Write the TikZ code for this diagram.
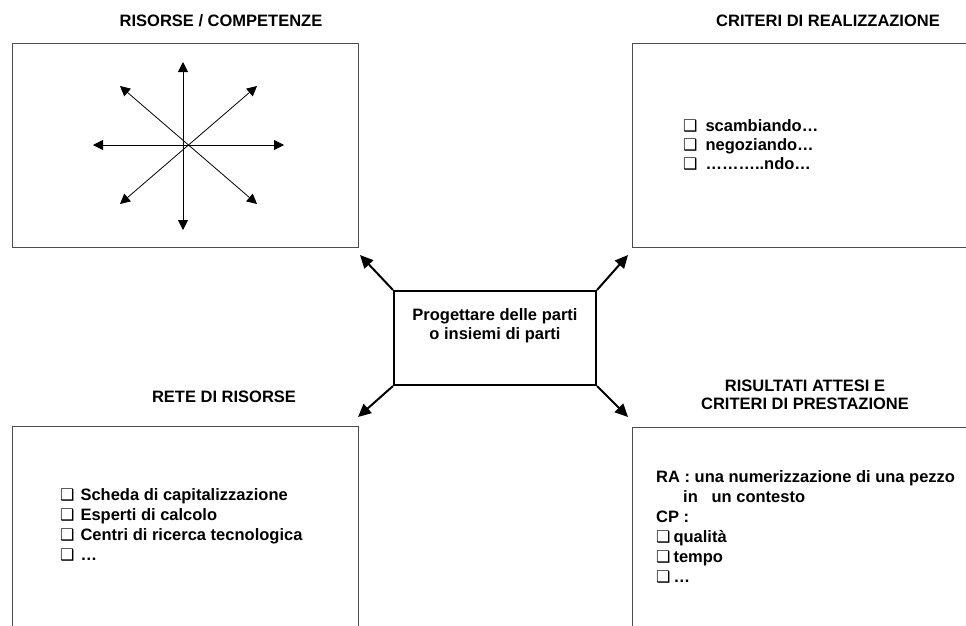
\documentclass[tikz,border=0pt]{standalone}
\usepackage{fontspec}
\setmainfont{Liberation Sans}
\newfontfamily\dingfont{DejaVu Sans}
\usetikzlibrary{arrows.meta}

% shadowed check box used in the lists
\newcommand\chkbox{{\dingfont\fontsize{16}{16}\selectfont ❑}}

\begin{document}
\begin{tikzpicture}[x=1pt,y=-1pt,
  panel/.style={draw=black!70, line width=1pt, inner sep=0pt, anchor=north west},
  hub/.style={draw=black, line width=2pt, inner sep=0pt, anchor=north west,
              minimum width=202pt, minimum height=94pt},
  txt/.style={anchor=base west, inner sep=0pt, font=\fontsize{16.5}{20}\selectfont\bfseries},
  ttl/.style={anchor=base, inner sep=0pt, font=\fontsize{16.5}{20}\selectfont\bfseries},
  ray/.style={{Triangle[length=10pt,width=10pt]}-{Triangle[length=10pt,width=10pt]},
              line width=0.8pt},
  spoke/.style={-{Triangle[length=13pt,width=12pt]}, line width=2pt}
]
\useasboundingbox (0,0) rectangle (966,625);

% four panels
\node[panel, minimum width=346pt, minimum height=204pt] (tl) at (12,43) {};
\node[panel, minimum width=346pt, minimum height=204pt] (tr) at (632,43) {};
\node[panel, minimum width=346pt, minimum height=214pt] (bl) at (12,426) {};
\node[panel, minimum width=346pt, minimum height=214pt] (br) at (632,427) {};

% panel titles
\node[ttl] (tlT) at (221,26) {RISORSE / COMPETENZE};
\node[ttl] (trT) at (828,26) {CRITERI DI REALIZZAZIONE};
\node[ttl] (blT) at (224,402) {RETE DI RISORSE};
\node[ttl] (brT1) at (805,391) {RISULTATI ATTESI E};
\node[ttl] (brT2) at (805,409) {CRITERI DI PRESTAZIONE};

% starburst of competences
\coordinate (sN) at (183,62);
\coordinate (sS) at (183,230);
\coordinate (sW) at (93,145);
\coordinate (sE) at (284,145);
\coordinate (sNW) at (120,86);
\coordinate (sSE) at (257,204);
\coordinate (sNE) at (257,86);
\coordinate (sSW) at (120,204);
\draw[ray] (sN) -- (sS);
\draw[ray] (sW) -- (sE);
\draw[ray] (sNW) -- (sSE);
\draw[ray] (sNE) -- (sSW);

% central task
\node[hub] (hub) at (393,290) {};
\node[ttl] (hub1) at (495,320) {Progettare delle parti};
\node[ttl] (hub2) at (495,339) {o insiemi di parti};

\coordinate (tipNW) at (360,255);
\coordinate (tipNE) at (628,255);
\coordinate (tipSW) at (358,417);
\coordinate (tipSE) at (628,417);
\draw[spoke] (hub.north west) -- (tipNW);
\draw[spoke] (hub.north east) -- (tipNE);
\draw[spoke] (hub.south west) -- (tipSW);
\draw[spoke] (hub.south east) -- (tipSE);

% criteri di realizzazione
\node[txt] (tr1) at (683,131) {\chkbox\hspace{8pt}scambiando…};
\node[txt] (tr2) at (683,150) {\chkbox\hspace{8pt}negoziando…};
\node[txt] (tr3) at (683,169) {\chkbox\hspace{8pt}………..ndo…};

% rete di risorse
\node[txt] (bl1) at (60,500) {\chkbox\hspace{6pt}Scheda di capitalizzazione};
\node[txt] (bl2) at (60,520) {\chkbox\hspace{6pt}Esperti di calcolo};
\node[txt] (bl3) at (60,540) {\chkbox\hspace{6pt}Centri di ricerca tecnologica};
\node[txt] (bl4) at (60,560) {\chkbox\hspace{6pt}…};

% risultati attesi e criteri di prestazione
\node[txt] (br1) at (656,482) {RA : una numerizzazione di una pezzo};
\node[txt] (br2) at (683,502) {in\ \ \ un contesto};
\node[txt] (br3) at (656,522) {CP :};
\node[txt] (br4) at (656,542) {\chkbox\hspace{3pt}qualità};
\node[txt] (br5) at (656,562) {\chkbox\hspace{3pt}tempo};
\node[txt] (br6) at (656,582) {\chkbox\hspace{3pt}…};
\end{tikzpicture}
\end{document}
